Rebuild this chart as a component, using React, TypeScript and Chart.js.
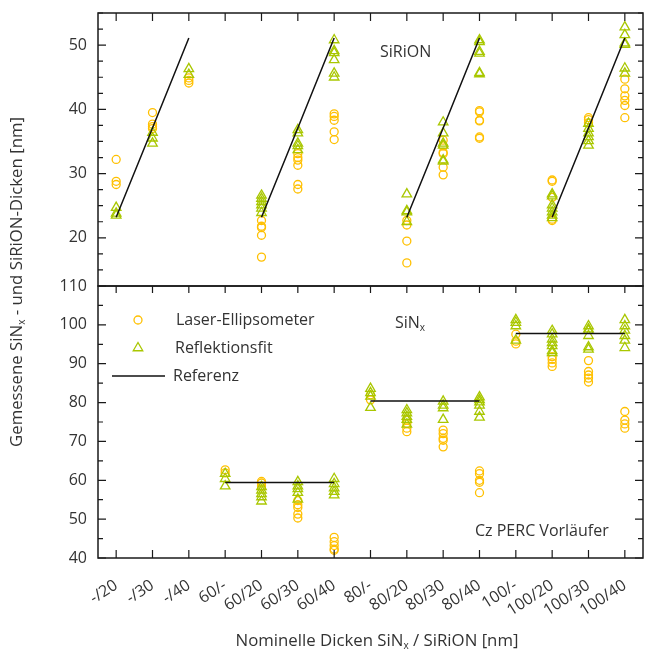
import React, { useEffect, useRef } from 'react';
import { Chart, registerables } from 'chart.js';

Chart.register(...registerables);

const categories = ['-/20', '-/30', '-/40', '60/-', '60/20', '60/30', '60/40', '80/-', '80/20', '80/30', '80/40', '100/-', '100/20', '100/30', '100/40'];

// Upper panel: SiRiON thickness [nm]
const sirionEllipsometer: number[][] = [
  [32.2, 28.8, 28.3],
  [39.5, 37.7, 37.3, 37.0],
  [44.9, 44.5, 44.1],
  [],
  [22.7, 21.8, 21.6, 20.4, 17.0],
  [33.1, 32.5, 32.1, 31.3, 28.3, 27.6],
  [39.3, 38.9, 38.3, 36.5, 35.3],
  [],
  [22.7, 22.0, 19.5, 16.1],
  [35.2, 34.3, 33.3, 33.1, 31.0, 29.8],
  [39.8, 39.6, 38.3, 38.2, 35.7, 35.5],
  [],
  [29.0, 28.8, 26.3, 22.9, 22.7],
  [38.7, 38.4, 37.9],
  [44.7, 43.2, 42.1, 41.4, 40.6, 38.7],
];
const sirionReflection: number[][] = [
  [24.7, 23.8, 23.5],
  [36.4, 35.5, 34.7],
  [46.3, 45.4],
  [],
  [26.6, 26.1, 25.6, 25.1, 24.6, 23.9],
  [36.8, 36.3, 34.7, 34.3, 33.7],
  [50.8, 49.1, 48.8, 47.7, 45.6, 45.0],
  [],
  [26.8, 24.2, 24.0, 22.5],
  [38.0, 36.3, 34.7, 34.4, 32.1, 31.9],
  [50.8, 50.5, 49.0, 48.7, 45.7, 45.5],
  [],
  [26.8, 26.5, 25.1, 24.6, 24.0, 23.5, 23.1],
  [37.8, 37.0, 36.3, 35.7, 35.1, 34.4],
  [52.8, 51.6, 50.3, 50.1, 46.4, 45.6],
];
const sirionReference: (number | null)[] = [23.2, 37.1, 51.1, null, 23.2, 37.1, 51.1, null, 23.2, 37.1, 51.1, null, 23.2, 37.1, 51.1];

// Lower panel: SiNx thickness [nm]
const sinxEllipsometer: number[][] = [
  [], [], [],
  [62.7, 61.9],
  [59.7, 59.3, 58.5],
  [54.8, 53.7, 53.0, 51.3, 50.3],
  [45.3, 44.2, 43.2, 42.3, 42.0],
  [82.0, 80.7],
  [75.5, 74.6, 73.4, 72.5],
  [72.9, 72.0, 70.8, 70.3, 68.6],
  [62.4, 61.7, 60.0, 59.5, 56.8],
  [97.6, 95.8, 95.1],
  [91.8, 91.1, 90.2, 89.3],
  [90.8, 88.0, 87.1, 86.3, 85.3],
  [77.7, 75.5, 74.5, 73.4],
];
const sinxReflection: number[][] = [
  [], [], [],
  [61.7, 60.4, 58.5],
  [58.3, 57.4, 56.5, 55.7, 54.6],
  [59.6, 58.5, 57.8, 56.8, 55.1],
  [60.4, 59.1, 58.0, 57.1, 56.2],
  [83.6, 82.5, 81.6, 78.7],
  [78.1, 77.3, 76.4, 75.6, 74.4],
  [80.3, 79.3, 78.6, 75.6],
  [81.4, 80.7, 80.1, 79.3, 77.7, 76.2],
  [101.3, 100.6, 99.7, 96.0],
  [98.5, 97.6, 96.3, 95.4, 94.6, 93.3, 92.8],
  [99.7, 98.9, 98.5, 97.2, 94.3, 93.7],
  [101.3, 99.7, 98.6, 97.2, 96.0, 94.1],
];
const sinxReferenceLevels = [59.4, 80.4, 97.8];
const sinxReferenceGroups = [[3, 6], [7, 10], [11, 14]];

const topTickLabels = [20, 30, 40, 50];
const bottomTickLabels = [40, 50, 60, 70, 80, 90, 100, 110];

const ELLI = '#ffc000';
const REFL = '#a9c700';
const TEXT = '#333333';
const FONT = "'Open Sans', 'Noto Sans', sans-serif";

function toPoints(groups: number[][]) {
  const pts: { x: number; y: number }[] = [];
  groups.forEach((vals, i) => vals.forEach((v) => pts.push({ x: i, y: v })));
  return pts;
}

function drawSubText(ctx: CanvasRenderingContext2D, parts: [string, boolean][], x: number, y: number, size: number, align: 'left' | 'center') {
  const subSize = Math.round(size * 0.62);
  let total = 0;
  parts.forEach(([t, sub]) => {
    ctx.font = `${sub ? subSize : size}px ${FONT}`;
    total += ctx.measureText(t).width;
  });
  let cx = align === 'center' ? x - total / 2 : x;
  ctx.textAlign = 'left';
  ctx.textBaseline = 'middle';
  parts.forEach(([t, sub]) => {
    ctx.font = `${sub ? subSize : size}px ${FONT}`;
    ctx.fillText(t, cx, sub ? y + size * 0.3 : y);
    cx += ctx.measureText(t).width;
  });
}

const framePlugin = {
  id: 'frameTicks',
  afterDraw(chart: any) {
    const { ctx, chartArea: ca, scales } = chart;
    const xs = scales.x, yT = scales.yTop, yB = scales.yBot;
    ctx.save();
    ctx.strokeStyle = '#1a1a1a';
    ctx.lineWidth = 1.5;
    ctx.strokeRect(ca.left, yT.top, ca.right - ca.left, yT.bottom - yT.top);
    ctx.strokeRect(ca.left, yB.top, ca.right - ca.left, yB.bottom - yB.top);
    ctx.lineWidth = 1.2;
    ctx.beginPath();
    categories.forEach((_, i) => {
      const px = xs.getPixelForValue(i);
      ctx.moveTo(px, yT.top); ctx.lineTo(px, yT.top + 8);
      ctx.moveTo(px, yB.top); ctx.lineTo(px, yB.top + 7);
      ctx.moveTo(px, yB.bottom); ctx.lineTo(px, yB.bottom - 8);
    });
    for (let v = 12.5; v <= 55.001; v += 2.5) {
      const py = yT.getPixelForValue(v);
      const len = v % 10 === 0 ? 8 : 5;
      ctx.moveTo(ca.left, py); ctx.lineTo(ca.left + len, py);
      ctx.moveTo(ca.right, py); ctx.lineTo(ca.right - len, py);
    }
    for (let v = 40; v <= 110; v += 5) {
      const py = yB.getPixelForValue(v);
      const len = v % 10 === 0 ? 8 : 5;
      ctx.moveTo(ca.left, py); ctx.lineTo(ca.left + len, py);
      ctx.moveTo(ca.right, py); ctx.lineTo(ca.right - len, py);
    }
    ctx.stroke();

    ctx.fillStyle = TEXT;
    // annotations
    drawSubText(ctx, [['SiRiON', false]], ca.left + 282, yT.top + 39, 16, 'left');
    drawSubText(ctx, [['SiN', false], ['x', true]], ca.left + 297, yB.top + 37, 16, 'left');
    drawSubText(ctx, [['Cz PERC Vorläufer', false]], ca.left + 377, yB.bottom - 27, 16, 'left');

    // legend
    const lx = ca.left + 40;
    const ly1 = yB.top + 34, ly2 = yB.top + 62, ly3 = yB.top + 90;
    ctx.lineWidth = 1.3;
    ctx.strokeStyle = ELLI;
    ctx.beginPath(); ctx.arc(lx, ly1, 4, 0, Math.PI * 2); ctx.stroke();
    ctx.strokeStyle = REFL;
    const r = 5.5;
    ctx.beginPath();
    ctx.moveTo(lx, ly2 - r);
    ctx.lineTo(lx + r * Math.sin(2 * Math.PI / 3), ly2 + r / 2);
    ctx.lineTo(lx - r * Math.sin(2 * Math.PI / 3), ly2 + r / 2);
    ctx.closePath(); ctx.stroke();
    ctx.strokeStyle = '#111';
    ctx.lineWidth = 1.5;
    ctx.beginPath(); ctx.moveTo(ca.left + 14, ly3); ctx.lineTo(ca.left + 67, ly3); ctx.stroke();
    drawSubText(ctx, [['Laser-Ellipsometer', false]], ca.left + 78, ly1, 16, 'left');
    drawSubText(ctx, [['Reflektionsfit', false]], ca.left + 77, ly2, 16, 'left');
    drawSubText(ctx, [['Referenz', false]], ca.left + 75, ly3, 16, 'left');

    // axis titles
    drawSubText(ctx, [['Nominelle Dicken SiN', false], ['x', true], [' / SiRiON [nm]', false]], 377, 641, 16.8, 'center');
    ctx.save();
    ctx.translate(17, 282);
    ctx.rotate(-Math.PI / 2);
    drawSubText(ctx, [['Gemessene SiN', false], ['x', true], [' - und SiRiON-Dicken [nm]', false]], 0, 0, 16.8, 'center');
    ctx.restore();
    ctx.restore();
  },
};

function sinxReferencePoints() {
  const pts: { x: number; y: number | null }[] = [];
  sinxReferenceGroups.forEach(([a, b], k) => {
    pts.push({ x: a, y: sinxReferenceLevels[k] });
    pts.push({ x: b, y: sinxReferenceLevels[k] });
    pts.push({ x: b + 0.5, y: null });
  });
  return pts;
}

const zeroVPad = (s: any) => { s.width = 98; s.paddingTop = 0; s.paddingBottom = 0; };

export default function App() {
  const ref = useRef<HTMLCanvasElement>(null);
  useEffect(() => {
    if (!ref.current) return;
    const tickFont = { family: FONT, size: 16 };
    const chart = new Chart(ref.current, {
      type: 'scatter',
      data: {
        datasets: [
          {
            type: 'line', label: 'Referenz SiRiON', yAxisID: 'yTop', order: 0,
            data: sirionReference.map((v, i) => ({ x: i, y: v })) as any,
            borderColor: '#111', borderWidth: 1.5, pointRadius: 0, spanGaps: false, fill: false,
          },
          {
            type: 'line', label: 'Referenz SiNx', yAxisID: 'yBot', order: 0,
            data: sinxReferencePoints() as any,
            borderColor: '#111', borderWidth: 1.5, pointRadius: 0, spanGaps: false, fill: false,
          },
          {
            label: 'Reflektionsfit SiRiON', yAxisID: 'yTop', order: 1,
            data: toPoints(sirionReflection), pointStyle: 'triangle', pointRadius: 5.5,
            borderColor: REFL, backgroundColor: 'rgba(0,0,0,0)', borderWidth: 1.3,
          },
          {
            label: 'Laser-Ellipsometer SiRiON', yAxisID: 'yTop', order: 2,
            data: toPoints(sirionEllipsometer), pointStyle: 'circle', pointRadius: 4,
            borderColor: ELLI, backgroundColor: 'rgba(0,0,0,0)', borderWidth: 1.3,
          },
          {
            label: 'Reflektionsfit SiNx', yAxisID: 'yBot', order: 1,
            data: toPoints(sinxReflection), pointStyle: 'triangle', pointRadius: 5.5,
            borderColor: REFL, backgroundColor: 'rgba(0,0,0,0)', borderWidth: 1.3,
          },
          {
            label: 'Laser-Ellipsometer SiNx', yAxisID: 'yBot', order: 2,
            data: toPoints(sinxEllipsometer), pointStyle: 'circle', pointRadius: 4,
            borderColor: ELLI, backgroundColor: 'rgba(0,0,0,0)', borderWidth: 1.3,
          },
        ] as any,
      },
      options: {
        animation: false,
        responsive: true,
        maintainAspectRatio: false,
        layout: { padding: { top: 13, right: 8, left: 0, bottom: 0 } },
        plugins: { legend: { display: false }, tooltip: { enabled: false } },
        scales: {
          x: {
            type: 'linear', min: -0.5, max: 14.5,
            grid: { display: false }, border: { display: false },
            afterBuildTicks: (s: any) => { s.ticks = categories.map((_, i) => ({ value: i })); },
            afterFit: (s: any) => { s.height = 95; s.paddingLeft = 0; s.paddingRight = 0; },
            ticks: {
              autoSkip: false, minRotation: 33, maxRotation: 33, padding: 10,
              font: tickFont, color: TEXT,
              callback: (v: any) => categories[Math.round(Number(v))] ?? '',
            },
          },
          yBot: {
            type: 'linear', position: 'left', stack: 'panels', stackWeight: 272,
            min: 40, max: 110,
            grid: { display: false, drawTicks: false }, border: { display: false },
            afterBuildTicks: (s: any) => { s.ticks = bottomTickLabels.map((v) => ({ value: v })); },
            afterFit: zeroVPad,
            ticks: { font: tickFont, color: TEXT, padding: 11 },
          },
          yTop: {
            type: 'linear', position: 'left', stack: 'panels', stackWeight: 273,
            min: 12.5, max: 55,
            grid: { display: false, drawTicks: false }, border: { display: false },
            afterBuildTicks: (s: any) => { s.ticks = topTickLabels.map((v) => ({ value: v })); },
            afterFit: zeroVPad,
            ticks: { font: tickFont, color: TEXT, padding: 11 },
          },
        } as any,
      },
      plugins: [framePlugin],
    });
    return () => chart.destroy();
  }, []);
  return (
    <div style={{ position: 'absolute', left: 0, top: 0, width: 651, height: 653, background: '#fff' }}>
      <canvas ref={ref} />
    </div>
  );
}
